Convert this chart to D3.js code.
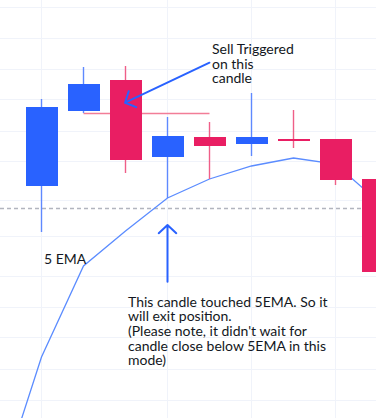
<!DOCTYPE html>
<html>
<head>
<meta charset="utf-8">
<script src="https://cdn.jsdelivr.net/npm/d3@7"></script>
<style>
  body { margin: 0; background: #fff; }
  svg { display: block; }
  text { font-family: Lato, "Open Sans", sans-serif; font-size: 14px; fill: #131722; }
</style>
</head>
<body>
<div id="chart"></div>
<script>
// candles (price units, one candle per index)
var candleIndex = [0, 1, 2, 3, 4, 5, 6, 7, 8];
var opens  = [314, 389, 420, 343, 363, 356, 361, 361, 321];
var highs  = [401, 433, 434, 383, 378, 407, 390, 361, 321];
var lows   = [268, 387, 327, 302, 321, 344, 352, 315, 228];
var closes = [393, 416, 340, 364, 354, 363, 359, 320, 228];

// 5 EMA, starts one candle before the visible area
var emaIndex = [-1, 0, 1, 2, 3, 4, 5, 6, 7, 8];
var emaValues = [13, 143, 234, 269, 302, 321, 334, 342, 336, 299];

// grid levels
var priceGrid = [492.7, 461, 430.7, 400.7, 369, 338.3, 300, 263.3, 224, 192.3, 162.3, 130.7, 100];
var timeGrid = [0, 3, 5, 7];

// sell trigger level (low of candle 1) and current price line
var triggerLevel = 387;
var triggerFrom = 1, triggerTo = 4;
var lastPrice = 292;

var w = 376;
var h = 418;

var x = d3.scaleLinear().domain([0, 8]).range([41.5, 377.5]);
var y = d3.scaleLinear().domain([82, 500]).range([h, 0]);

var BLUE = "#2962ff";
var RED = "#e91e63";

var svg = d3.select("#chart")
    .append("svg")
    .attr("width", w)
    .attr("height", h);

var crisp = function(v) {
    return Math.round(v - 0.5) + 0.5;
};

// grid
svg.selectAll("line.hgrid")
    .data(priceGrid)
    .enter()
    .append("line")
    .attr("class", "hgrid")
    .attr("x1", 0).attr("x2", w)
    .attr("y1", function(d) { return crisp(y(d)); })
    .attr("y2", function(d) { return crisp(y(d)); })
    .attr("stroke", "#f0f3fa");

svg.selectAll("line.vgrid")
    .data(timeGrid)
    .enter()
    .append("line")
    .attr("class", "vgrid")
    .attr("y1", 0).attr("y2", h)
    .attr("x1", function(d) { return crisp(x(d)); })
    .attr("x2", function(d) { return crisp(x(d)); })
    .attr("stroke", "#f0f3fa");

// price line
svg.append("line")
    .attr("x1", 0).attr("x2", w)
    .attr("y1", crisp(y(lastPrice)))
    .attr("y2", crisp(y(lastPrice)))
    .attr("stroke", "#b2b5be")
    .attr("stroke-width", 1.5)
    .attr("stroke-dasharray", "4 3");

// ema
var ema = emaIndex.map(function(d, i) { return [d, emaValues[i]]; });
svg.append("path")
    .datum(ema)
    .attr("fill", "none")
    .attr("stroke", "#5b8cff")
    .attr("stroke-width", 1.3)
    .attr("d", d3.line()
        .x(function(d) { return x(d[0]); })
        .y(function(d) { return y(d[1]); }));

// trigger line
svg.append("line")
    .attr("x1", x(triggerFrom)).attr("x2", x(triggerTo))
    .attr("y1", crisp(y(triggerLevel)))
    .attr("y2", crisp(y(triggerLevel)))
    .attr("stroke", "#f27d97")
    .attr("stroke-width", 1.5);

// candles
var candles = candleIndex.map(function(d, i) {
    return { i: d, o: opens[i], h: highs[i], l: lows[i], c: closes[i] };
});
var colorOf = function(d) { return d.c >= d.o ? BLUE : RED; };
var wickOf = function(d) { return d.c >= d.o ? "#5f89ff" : "#ef5f88"; };
var bodyW = 32;

var g = svg.selectAll("g.candle")
    .data(candles)
    .enter()
    .append("g")
    .attr("class", "candle");

g.append("line")
    .attr("x1", function(d) { return crisp(x(d.i)); })
    .attr("x2", function(d) { return crisp(x(d.i)); })
    .attr("y1", function(d) { return y(d.h); })
    .attr("y2", function(d) { return y(d.l); })
    .attr("stroke", wickOf)
    .attr("stroke-width", 1.4);

g.append("rect")
    .attr("x", function(d) { return Math.round(x(d.i) - bodyW / 2); })
    .attr("y", function(d) { return y(Math.max(d.o, d.c)); })
    .attr("width", bodyW)
    .attr("height", function(d) { return Math.max(2, Math.abs(y(d.o) - y(d.c))); })
    .attr("fill", colorOf);

// annotation arrows
var arrow = function(x1, y1, x2, y2) {
    var a = Math.atan2(y1 - y2, x1 - x2);
    var len = 12, spread = 47 * Math.PI / 180;
    var p = "M" + x1 + "," + y1 + "L" + x2 + "," + y2;
    p += "M" + (x2 + len * Math.cos(a - spread)) + "," + (y2 + len * Math.sin(a - spread));
    p += "L" + x2 + "," + y2;
    p += "L" + (x2 + len * Math.cos(a + spread)) + "," + (y2 + len * Math.sin(a + spread));
    svg.append("path")
        .attr("d", p)
        .attr("fill", "none")
        .attr("stroke", BLUE)
        .attr("stroke-width", 2)
        .attr("stroke-linecap", "round")
        .attr("stroke-linejoin", "round");
};

arrow(x(4), y(437.3), x(1.99), y(397.3));
arrow(x(3), y(218.3), x(3), y(275));

// texts
var lines = function(tx, ty, arr) {
    var t = svg.append("text").attr("x", tx).attr("y", ty);
    t.selectAll("tspan")
        .data(arr)
        .enter()
        .append("tspan")
        .attr("x", tx)
        .attr("dy", function(d, i) { return i === 0 ? 0 : 14.6; })
        .text(function(d) { return d; });
};

lines(212, 54, ["Sell Triggered", "on this", "candle"]);
lines(44, 264, ["5 EMA"]);
lines(128, 306.7, [
    "This candle touched 5EMA. So it",
    "will exit position.",
    "(Please note, it didn't wait for",
    "candle close below 5EMA in this",
    "mode)"
]);
</script>
</body>
</html>
